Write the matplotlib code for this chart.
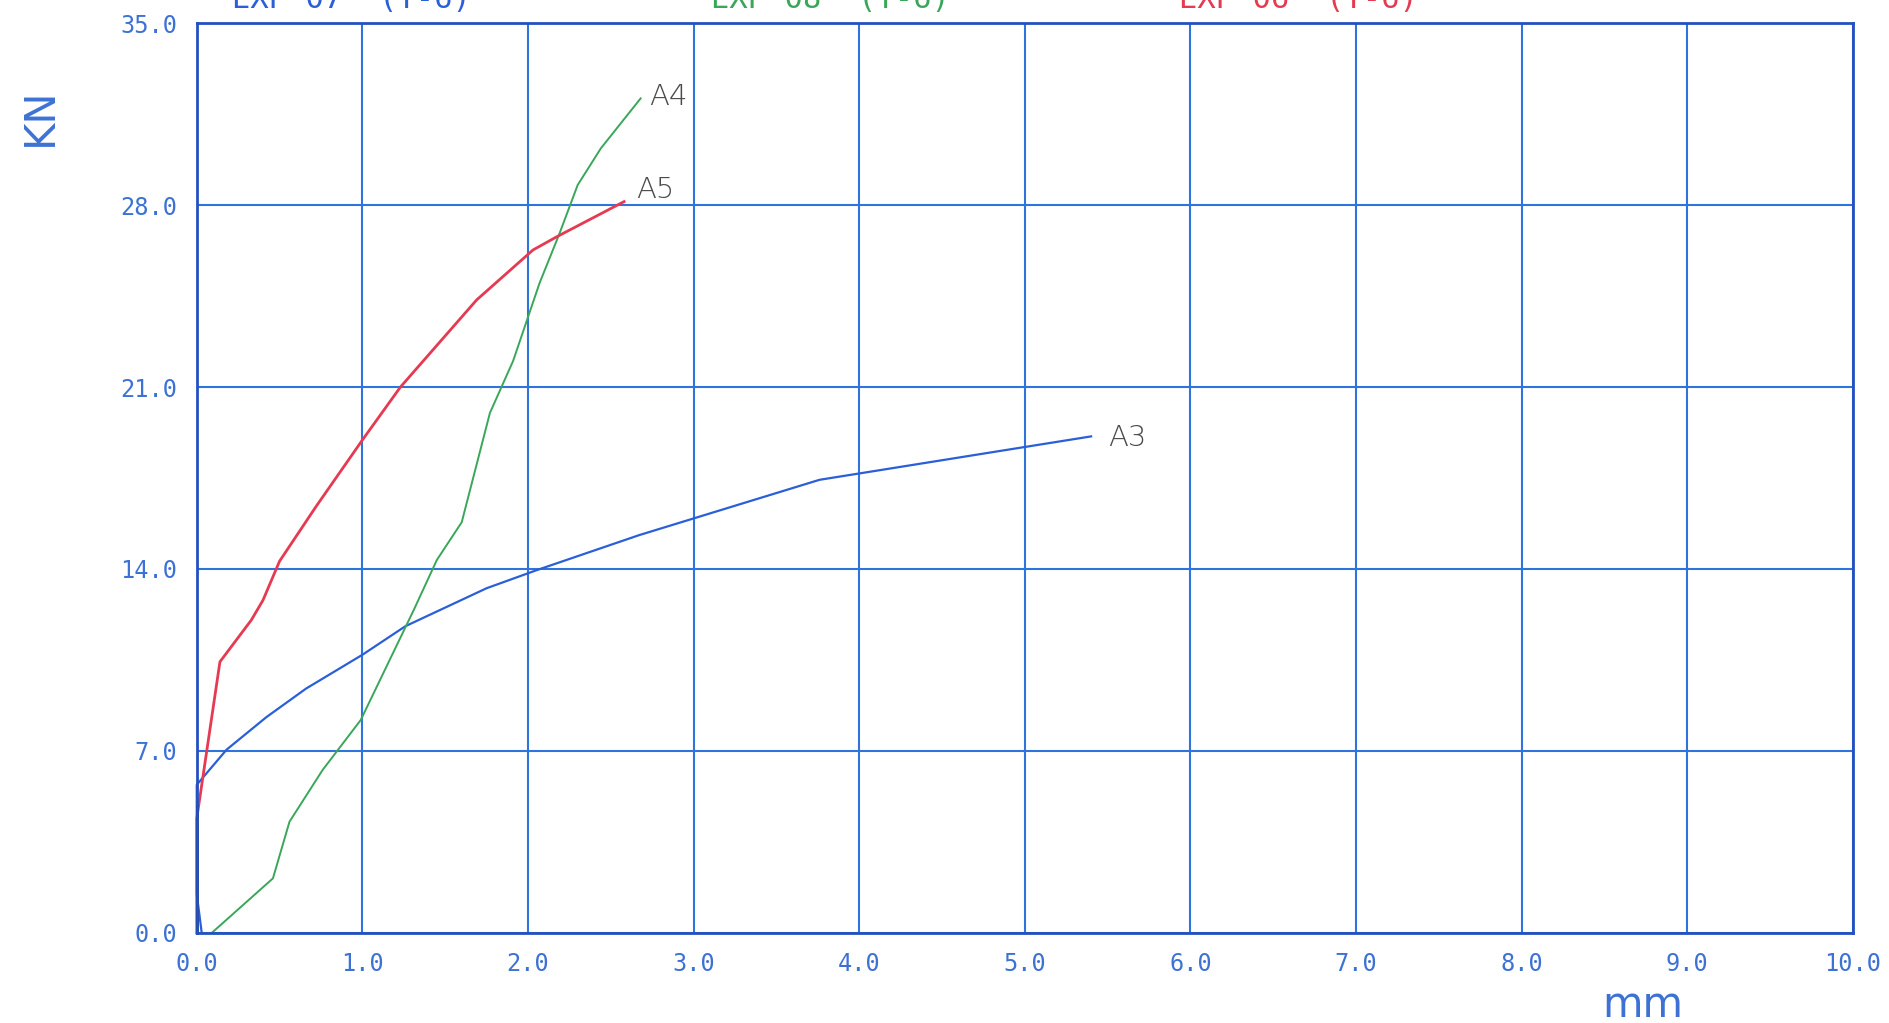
import matplotlib.pyplot as plt

# load (kN) vs. displacement (mm) for three specimens
a3_mm = [0.03, 0.0, 0.0, 0.18, 0.42, 0.66, 1.0, 1.26, 1.75, 2.05, 2.67, 3.76, 5.4]
a3_kn = [0.0, 1.5, 5.7, 7.05, 8.3, 9.4, 10.7, 11.8, 13.26, 13.95, 15.3, 17.43, 19.1]

a4_mm = [0.0, 0.09, 0.46, 0.56, 0.76, 0.99, 1.31, 1.45, 1.60, 1.77, 1.91, 2.07,
         2.19, 2.30, 2.44, 2.68]
a4_kn = [0.0, 0.0, 2.1, 4.28, 6.27, 8.19, 12.42, 14.35, 15.8, 20.0, 22.0, 25.0,
         26.9, 28.77, 30.18, 32.1]

a5_mm = [0.0, 0.0, 0.14, 0.33, 0.40, 0.50, 0.72, 1.0, 1.23, 1.69, 2.03, 2.18, 2.58]
a5_kn = [0.0, 4.4, 10.43, 12.04, 12.8, 14.3, 16.4, 18.96, 21.0, 24.35, 26.27, 26.8, 28.13]

# short trace along the load axis where the three pens overlap
base_mm = [0.0, 0.0]
base_kn = [0.0, 4.9]

x_ticks = [0.0, 1.0, 2.0, 3.0, 4.0, 5.0, 6.0, 7.0, 8.0, 9.0, 10.0]
y_ticks = [0.0, 7.0, 14.0, 21.0, 28.0, 35.0]

series_titles = ["EXP 07  (T-6)", "EXP 08  (T-6)", "EXP 06  (T-6)"]

GRID = "#2f74dc"
FRAME = "#2550c0"
TXT = "#3d72d4"
C_A3 = "#2a5fd8"
C_A4 = "#3aa65a"
C_A5 = "#e53a52"
LBL = "#4a4a4a"

fig = plt.figure(figsize=(18.9, 10.23), dpi=100)
ax = fig.add_axes([0.1041, 0.088, 0.8763, 0.8895])

ax.set_xlim(0, 10)
ax.set_ylim(0, 35)
ax.set_xticks(x_ticks)
ax.set_yticks(y_ticks)
ax.set_xticklabels([f"{v:.1f}" for v in x_ticks])
ax.set_yticklabels([f"{v:.1f}" for v in y_ticks])
ax.grid(True, color=GRID, linewidth=1.5)
ax.set_axisbelow(True)
for s in ax.spines.values():
    s.set_color(FRAME)
    s.set_linewidth(2.0)
ax.tick_params(length=0, labelcolor=TXT, labelsize=17, pad=14)
for lab in ax.get_xticklabels() + ax.get_yticklabels():
    lab.set_family("DejaVu Sans Mono")

ax.plot(a3_mm, a3_kn, color=C_A3, linewidth=1.6, clip_on=False)
ax.plot(a4_mm, a4_kn, color=C_A4, linewidth=1.4, clip_on=False)
ax.plot(a5_mm, a5_kn, color=C_A5, linewidth=2.0, clip_on=False)
ax.plot(base_mm, base_kn, color="#222222", linewidth=2.0, clip_on=False)

# specimen labels at the end of each curve
ax.text(a4_mm[-1] + 0.05, a4_kn[-1] + 0.05, "A4", color=LBL, fontsize=21,
        va="center", ha="left", fontweight="light")
ax.text(a5_mm[-1] + 0.07, a5_kn[-1] + 0.45, "A5", color=LBL, fontsize=21,
        va="center", ha="left", fontweight="light")
ax.text(a3_mm[-1] + 0.1, a3_kn[-1] - 0.05, "A3", color=LBL, fontsize=21,
        va="center", ha="left", fontweight="light")

ax.text(-0.095, 0.897, "KN", transform=ax.transAxes, color=TXT, fontsize=30,
        rotation=90, ha="center", va="center",
        family=["Liberation Sans Narrow", "DejaVu Sans"])
fig.text(0.869, 0.006, "mm", color=TXT, fontsize=30, ha="center", va="baseline",
         family=["Liberation Sans Narrow", "DejaVu Sans"])

# series titles along the top edge
for x, title, c in zip([0.123, 0.376, 0.624], series_titles, [C_A3, C_A4, C_A5]):
    fig.text(x, 0.9925, title, color=c, fontsize=22, ha="left", va="baseline",
             family="DejaVu Sans Mono")

fig.savefig("out.png", dpi=100, facecolor="white")
